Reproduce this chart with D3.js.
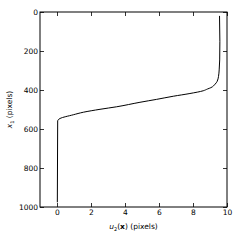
<!DOCTYPE html>
<html>
<head>
<meta charset="utf-8">
<script src="https://cdn.jsdelivr.net/npm/d3@7"></script>
<style>
  body { margin: 0; background: #fff; }
  text { font-family: "DejaVu Sans", sans-serif; }
</style>
</head>
<body>
<svg id="chart"></svg>
<script>
// profile: u2 (x) against x1 (y), bottom to top
var x1Vals = [976, 559, 546, 527, 514, 499, 486, 463, 448, 432, 418, 404, 395, 388, 370, 356, 330, 297, 246, 150, 20];
var u2Vals = [0.02, 0.04, 0.18, 0.96, 1.55, 2.53, 3.51, 4.88, 5.86, 6.84, 7.82, 8.6, 8.85, 9.05, 9.3, 9.42, 9.5, 9.54, 9.57, 9.58, 9.56];
var xTicks = [0, 2, 4, 6, 8, 10];
var yTicks = [0, 200, 400, 600, 800, 1000];

var width = 240, height = 240;
var margin = { top: 12, right: 13, bottom: 33, left: 40 };

var svg = d3.select("#chart")
    .attr("width", width)
    .attr("height", height);

var x = d3.scaleLinear().domain([-1, 10]).range([margin.left, width - margin.right]);
var y = d3.scaleLinear().domain([0, 1000]).range([margin.top, height - margin.bottom]);

// ticks point inwards on all four sides
var tickLen = 4;
function styleAxis(g) {
    g.select(".domain").remove();
    g.selectAll("line").attr("stroke", "#000").attr("stroke-width", 0.8);
    g.selectAll("text").attr("font-size", "7.5px").attr("fill", "#000");
}

svg.append("g")
    .attr("transform", "translate(0," + y.range()[1] + ")")
    .call(d3.axisBottom(x).tickValues(xTicks).tickSize(-tickLen).tickPadding(3).tickFormat(d3.format("d")))
    .call(styleAxis);
svg.append("g")
    .attr("transform", "translate(0," + y.range()[0] + ")")
    .call(d3.axisTop(x).tickValues(xTicks).tickSize(-tickLen).tickFormat(""))
    .call(styleAxis);
svg.append("g")
    .attr("transform", "translate(" + x.range()[0] + ",0)")
    .call(d3.axisLeft(y).tickValues(yTicks).tickSize(-tickLen).tickPadding(2).tickFormat(d3.format("d")))
    .call(styleAxis);
svg.append("g")
    .attr("transform", "translate(" + x.range()[1] + ",0)")
    .call(d3.axisRight(y).tickValues(yTicks).tickSize(-tickLen).tickFormat(""))
    .call(styleAxis);

// frame
svg.append("rect")
    .attr("x", x.range()[0]).attr("y", y.range()[0])
    .attr("width", x.range()[1] - x.range()[0])
    .attr("height", y.range()[1] - y.range()[0])
    .attr("fill", "none").attr("stroke", "#000").attr("stroke-width", 1);

var pts = x1Vals.map(function (v, i) { return [u2Vals[i], v]; });
var line = d3.line()
    .x(function (d) { return x(d[0]); })
    .y(function (d) { return y(d[1]); })
    .curve(d3.curveMonotoneY);

svg.append("path")
    .datum(pts)
    .attr("d", line)
    .attr("fill", "none")
    .attr("stroke", "#000")
    .attr("stroke-width", 1);

// axis labels
var xl = svg.append("text")
    .attr("x", (x.range()[0] + x.range()[1]) / 2)
    .attr("y", 229)
    .attr("text-anchor", "middle")
    .attr("font-size", "7.5px");
xl.append("tspan").attr("font-style", "italic").text("u");
xl.append("tspan").attr("font-size", "5px").attr("dy", 1.5).text("2");
xl.append("tspan").attr("dy", -1.5).text("(");
xl.append("tspan").attr("font-weight", "bold").text("x");
xl.append("tspan").text(") (pixels)");

var yl = svg.append("text")
    .attr("transform", "translate(12," + (y.range()[0] + y.range()[1]) / 2 + ") rotate(-90)")
    .attr("text-anchor", "middle")
    .attr("font-size", "7.5px");
yl.append("tspan").attr("font-style", "italic").text("x");
yl.append("tspan").attr("font-size", "5px").attr("dy", 1.5).text("1");
yl.append("tspan").attr("dy", -1.5).text(" (pixels)");
</script>
</body>
</html>
